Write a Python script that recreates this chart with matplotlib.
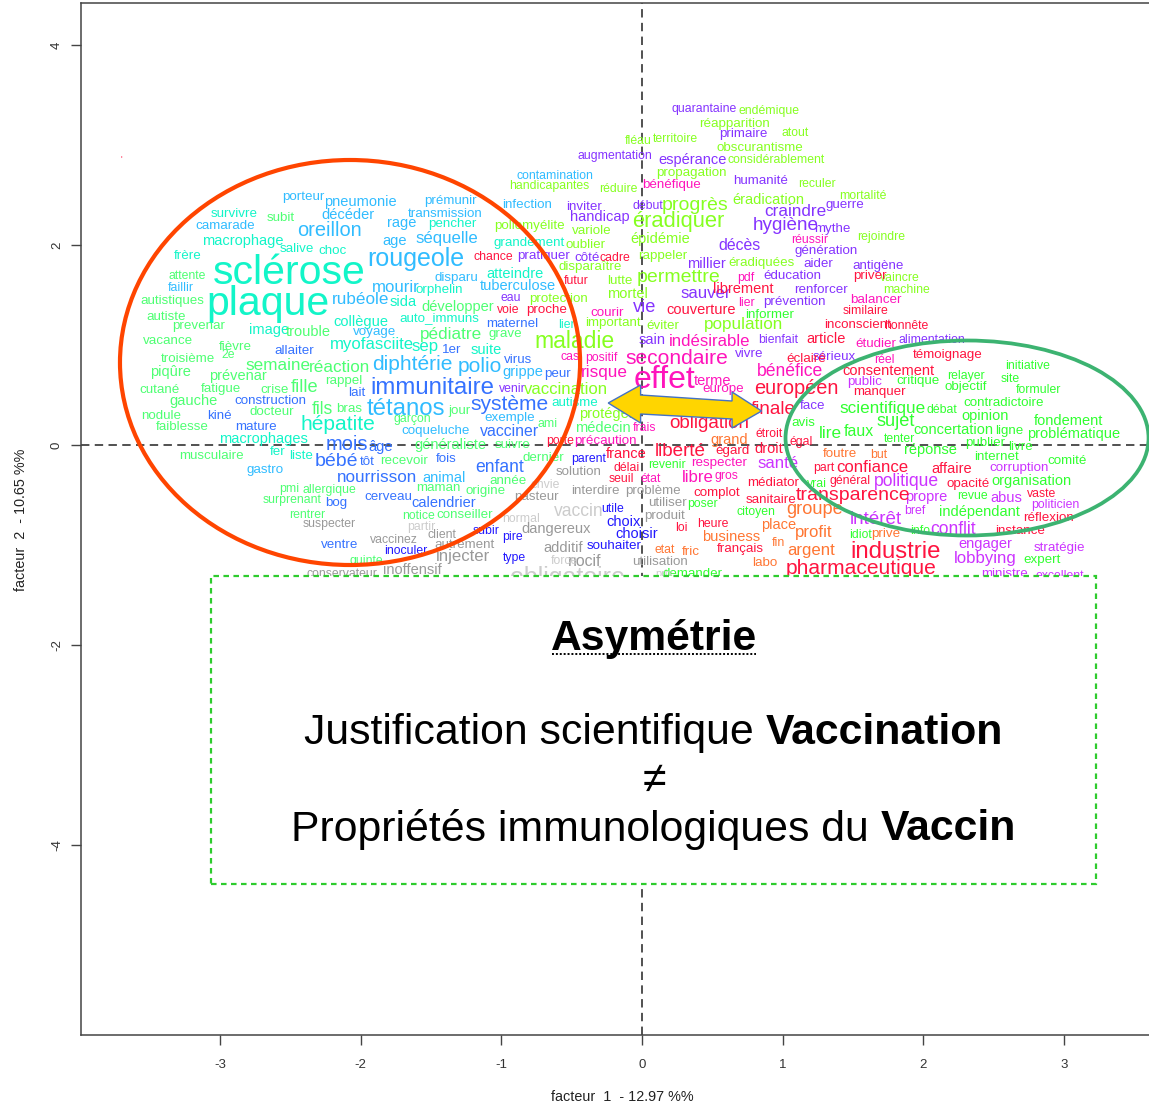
import matplotlib
matplotlib.use("Agg")
import matplotlib.pyplot as plt
import numpy as np
from matplotlib.patches import Ellipse, Polygon, Rectangle

plt.rcParams['font.family'] = ['Liberation Sans', 'DejaVu Sans']
plt.rcParams['axes.unicode_minus'] = False

# (word, factor 1, factor 2, weight)
teal = [("sclérose",-2.51,1.72,41),("plaque",-2.66,1.41,41),("macrophage",-2.84,2.04,12),("survivre",-2.90,2.31,11),
 ("salive",-2.45,1.96,11),("choc",-2.20,1.94,11),("frère",-3.23,1.89,11),("collègue",-2.00,1.23,12),("image",-2.65,1.15,12),
 ("myofasciite",-1.92,1.00,15),("macrophages",-2.69,0.06,12),("hépatite",-2.16,0.21,21),("fer",-2.59,-0.07,11),("liste",-2.42,-0.11,11),
 ("atteindre",-0.90,1.71,12),("sida",-1.70,1.43,12),("auto_immuns",-1.44,1.27,11),("suite",-1.11,0.95,12),("sep",-1.54,0.98,15),
 ("orphelin",-1.44,1.55,11),("autisme",-0.48,0.42,11),("lien",-0.53,1.20,10),("grandement",-0.80,2.02,11),("pencher",-1.35,2.21,11)]
cyan = [("porteur",-2.41,2.48,11),("pneumonie",-2.00,2.43,12),("décéder",-2.09,2.30,12),("camarade",-2.96,2.19,11),("oreillon",-2.22,2.14,20),
 ("faillir",-3.28,1.57,10),("rubéole",-2.00,1.45,14),("rougeole",-1.61,1.86,25),("prémunir",-1.36,2.44,11),("transmission",-1.40,2.31,11),
 ("rage",-1.71,2.22,12),("age",-1.76,2.04,12),("séquelle",-1.39,2.06,15),("mourir",-1.75,1.58,15),("disparu",-1.32,1.67,11),
 ("tuberculose",-0.88,1.59,12),("infection",-0.82,2.40,11),("contamination",-0.62,2.69,10),("voyage",-1.90,1.13,11),("grippe",-0.85,0.73,12),
 ("diphtérie",-1.63,0.80,21),("polio",-1.15,0.79,21),("tétanos",-1.68,0.36,24),("coqueluche",-1.47,0.14,11),("animal",-1.41,-0.33,12),
 ("gastro",-2.68,-0.25,11),("exemple",-0.94,0.27,11)]
blue = [("immunitaire",-1.49,0.57,24),("système",-0.94,0.40,21),("vacciner",-0.94,0.14,13),("maternel",-0.92,1.21,11),("lait",-2.03,0.52,11),
 ("allaiter",-2.47,0.94,11),("construction",-2.64,0.44,11),("kiné",-3.00,0.29,11),("mature",-2.74,0.18,11),("mois",-2.10,0.00,20),
 ("âge",-1.855,-0.02,12),("bébé",-2.17,-0.17,19),("tôt",-1.95,-0.17,11),("nourrisson",-1.88,-0.33,14),("enfant",-1.01,-0.23,16),
 ("cerveau",-1.80,-0.52,11),("bog",-2.17,-0.58,11),("calendrier",-1.41,-0.58,12),("fois",-1.39,-0.14,11),("ventre",-2.15,-1.00,11),
 ("1er",-1.35,0.95,11),("virus",-0.88,0.85,11),("peur",-0.60,0.71,11)]
navy = [("utile",-0.21,-0.64,10),("choix",-0.13,-0.77,12),("choisir",-0.04,-0.89,12),("souhaiter",-0.20,-1.01,11),("pire",-0.92,-0.92,10),
 ("type",-0.91,-1.13,10),("subir",-1.11,-0.86,10),("parent",-0.38,-0.14,10),("inoculer",-1.68,-1.06,10)]
mint = [("autistiques",-3.34,1.44,11),("autiste",-3.38,1.28,11),("prevenar",-3.15,1.19,11),("vacance",-3.37,1.04,11),("fièvre",-2.89,0.98,11),
 ("troisième",-3.23,0.86,11),("semaine",-2.59,0.80,14),("réaction",-2.15,0.78,14),("piqûre",-3.35,0.73,12),("prévenar",-2.87,0.69,12),
 ("rappel",-2.12,0.64,11),("cutané",-3.43,0.55,11),("fatigue",-2.99,0.56,11),("crise",-2.61,0.55,11),("gauche",-3.19,0.44,12),
 ("docteur",-2.63,0.33,11),("nodule",-3.42,0.29,11),("faiblesse",-3.27,0.18,11),("musculaire",-3.06,-0.11,11),("pédiatre",-1.36,1.10,14),
 ("grave",-0.97,1.11,11),("pmi",-2.51,-0.44,10),("allergique",-2.22,-0.45,10),("surprenant",-2.49,-0.55,10),("rentrer",-2.38,-0.70,10),
 ("recevoir",-1.69,-0.16,11),("généraliste",-1.36,0.00,12),("suivre",-0.92,0.00,11),("dernier",-0.70,-0.13,11),("année",-0.95,-0.36,11),
 ("maman",-1.45,-0.43,11),("origine",-1.11,-0.46,11),("notice",-1.59,-0.71,10),("conseiller",-1.26,-0.70,11),("jour",-1.30,0.34,11),
 ("ami",-0.67,0.21,10),("médecin",-0.28,0.17,12),("quinte",-1.96,-1.16,10),("fille",-2.40,0.58,17),("fils",-2.27,0.36,16),("bras",-2.08,0.36,11),
 ("développer",-1.31,1.38,12),("attente",-3.23,1.69,10),("2e",-2.94,0.90,10),("trouble",-2.37,1.13,12),("subit",-2.57,2.27,11),("garçon",-1.63,0.26,10)]
green = [("informer",0.91,1.30,11),("scientifique",1.71,0.36,14),("sujet",1.80,0.23,17),("avis",1.15,0.22,11),("lire",1.34,0.11,14),("faux",1.54,0.13,13),
 ("tenter",1.83,0.06,10),("débat",2.13,0.35,10),("contradictoire",2.57,0.42,11),("opinion",2.44,0.29,12),("concertation",2.21,0.15,12),("ligne",2.61,0.14,11),
 ("fondement",3.03,0.24,12),("problématique",3.07,0.11,12),("publier",2.44,0.02,11),("livre",2.69,-0.02,11),("réponse",2.05,-0.05,12),("internet",2.52,-0.12,11),
 ("comité",3.02,-0.16,11),("organisation",2.77,-0.36,12),("revue",2.35,-0.51,10),("indépendant",2.40,-0.67,12),("expert",2.84,-1.15,11),("idiot",1.55,-0.90,10),
 ("info",1.98,-0.86,10),("initiative",2.74,0.79,10),("site",2.62,0.66,10),("formuler",2.82,0.55,10),("relayer",2.30,0.69,10),("critique",1.96,0.64,11),
 ("objectif",2.30,0.58,11),("citoyen",0.81,-0.67,10),("poser",0.43,-0.59,10),("demander",0.36,-1.29,11),("vrai",1.24,-0.39,10),("revenir",0.18,-0.20,10)]
lime = [("handicapantes",-0.66,2.59,10),("réduire",-0.17,2.56,10),("poliomyélite",-0.80,2.19,11),("variole",-0.36,2.14,11),("oublier",-0.40,2.00,11),
 ("disparaître",-0.37,1.78,11),("lutte",-0.16,1.64,11),("mortel",-0.10,1.51,12),("protection",-0.59,1.46,11),("important",-0.21,1.22,11),
 ("vaccination",-0.54,0.56,15),("protéger",-0.25,0.31,12),("maladie",-0.48,1.04,23),("épidémie",0.13,2.06,12),("éradiquer",0.26,2.23,22),
 ("progrès",0.38,2.39,19),("rappeler",0.15,1.89,11),("permettre",0.26,1.68,19),("fléau",-0.03,3.04,10),("territoire",0.24,3.06,10),
 ("réapparition",0.66,3.21,11),("endémique",0.90,3.34,10),("atout",1.09,3.12,10),("obscurantisme",0.84,2.97,11),("considérablement",0.95,2.85,10),
 ("propagation",0.35,2.72,11),("reculer",1.24,2.61,10),("éradication",0.90,2.45,12),("mortalité",1.57,2.49,10),("rejoindre",1.70,2.08,10),
 ("éradiquées",0.85,1.82,11),("vaincre",1.83,1.67,10),("machine",1.88,1.55,10),("éviter",0.15,1.19,11),("population",0.72,1.20,14)]
purple = [("quarantaine",0.44,3.36,10),("primaire",0.72,3.11,11),("augmentation",-0.19,2.89,10),("espérance",0.36,2.85,12),("humanité",0.84,2.64,11),
 ("inviter",-0.41,2.38,11),("handicap",-0.30,2.28,12),("début",0.04,2.39,10),("craindre",1.09,2.33,14),("guerre",1.44,2.40,11),("hygiène",1.02,2.19,18),
 ("mythe",1.35,2.16,11),("décès",0.69,2.00,13),("génération",1.31,1.94,11),("aider",1.25,1.81,11),("antigène",1.68,1.79,11),("millier",0.46,1.81,12),
 ("éducation",1.07,1.69,11),("sauver",0.45,1.52,15),("renforcer",1.27,1.55,11),("prévention",1.08,1.43,11),("vie",0.02,1.37,17),("côté",-0.39,1.87,11),
 ("pratiquer",-0.70,1.89,11),("eau",-0.93,1.47,10),("venir",-0.92,0.56,10),("vivre",0.76,0.91,11),("sain",0.07,1.05,12),("bienfait",0.97,1.05,10),
 ("sérieux",1.37,0.88,11),("face",1.21,0.39,11),("alimentation",2.06,1.05,10)]
magenta = [("bénéfique",0.21,2.60,11),("réussir",1.19,2.05,10),("pdf",0.74,1.67,10),("lier",0.74,1.42,10),("balancer",1.66,1.45,11),("courir",-0.25,1.32,11),
 ("indésirable",0.48,1.04,15),("secondaire",0.25,0.87,21),("effet",0.16,0.65,32),("risque",-0.27,0.72,14),("cas",-0.51,0.88,10),("positif",-0.29,0.87,10),
 ("précaution",-0.26,0.04,11),("terme",0.50,0.64,12),("europe",0.58,0.56,11),("bénéfice",1.05,0.73,16),("étudier",1.66,1.01,11),("état",0.06,-0.34,10),
 ("gros",0.60,-0.31,10),("libre",0.40,-0.33,15),("frais",0.02,0.17,10),("respecter",0.55,-0.18,11),("réel",1.72,0.85,10)]
violet = [("politique",1.88,-0.36,16),("propre",2.02,-0.52,12),("abus",2.59,-0.53,12),("corruption",2.68,-0.23,11),("intérêt",1.66,-0.74,18),("bref",1.94,-0.66,10),
 ("conflit",2.21,-0.85,16),("engager",2.44,-0.99,12),("lobbying",2.44,-1.13,15),("stratégie",2.97,-1.03,11),("ministre",2.58,-1.29,11),("politicien",2.94,-0.60,10),
 ("excellent",2.97,-1.31,10),("santé",0.97,-0.19,15),("public",1.58,0.63,11)]
red = [("chance",-1.06,1.88,10),("cadre",-0.19,1.87,10),("voie",-0.95,1.35,10),("proche",-0.68,1.35,11),("futur",-0.47,1.64,10),("priver",1.62,1.69,11),
 ("inconscient",1.53,1.20,11),("similaire",1.59,1.34,10),("couverture",0.42,1.35,12),("librement",0.72,1.56,12),("article",1.31,1.06,12),("honnête",1.88,1.19,10),
 ("éclairé",1.17,0.86,11),("consentement",1.75,0.74,12),("européen",1.10,0.57,20),("finale",0.93,0.36,18),("obligation",0.48,0.21,18),("égard",0.64,-0.06,11),
 ("liberté",0.27,-0.06,18),("droit",0.90,-0.04,12),("étroit",0.90,0.11,10),("égal",1.13,0.03,10),("manquer",1.69,0.53,11),("complot",0.53,-0.48,11),
 ("médiator",0.93,-0.38,11),("sanitaire",0.92,-0.55,11),("heure",0.50,-0.79,10),("loi",0.28,-0.83,10),("français",0.70,-1.04,11),("pharmaceutique",1.56,-1.24,21),
 ("industrie",1.80,-1.07,24),("transparence",1.50,-0.50,19),("confiance",1.64,-0.22,15),("affaire",2.20,-0.24,12),("opacité",2.32,-0.39,11),("vaste",2.84,-0.49,10),
 ("réflexion",2.89,-0.73,11),("instance",2.69,-0.86,11),("général",1.48,-0.36,10),("part",1.29,-0.23,10),("seuil",-0.15,-0.34,10),("délai",-0.11,-0.23,10),
 ("porte",-0.58,0.04,10),("france",-0.11,-0.09,12),("témoignage",2.17,0.90,11),("'",-3.70,2.86,7)]
orange = [("grand",0.62,0.05,12),("foutre",1.41,-0.09,11),("but",1.68,-0.10,10),("groupe",1.23,-0.65,17),("profit",1.22,-0.87,15),("place",0.97,-0.80,12),
 ("business",0.63,-0.92,12),("fin",0.97,-0.98,10),("argent",1.20,-1.05,15),("labo",0.87,-1.18,11),("etat",0.16,-1.05,10),("fric",0.35,-1.07,11),("prive",1.73,-0.89,11)]
gray = [("suspecter",-2.22,-0.79,10),("vaccinez",-1.76,-0.95,10),("client",-1.42,-0.90,10),("autrement",-1.26,-1.00,11),("injecter",-1.27,-1.11,15),
 ("inoffensif",-1.63,-1.25,12),("conservateur",-2.13,-1.29,10),("additif",-0.56,-1.03,12),("dangereux",-0.61,-0.84,12),("solution",-0.45,-0.27,11),
 ("interdire",-0.33,-0.46,11),("problème",0.08,-0.46,11),("pasteur",-0.75,-0.52,11),("utiliser",0.18,-0.58,11),("produit",0.16,-0.71,11),
 ("utilisation",0.13,-1.17,11),("nocif",-0.41,-1.17,13)]
pale = [("envie",-0.69,-0.40,10),("vaccin",-0.45,-0.66,16),("partir",-1.57,-0.82,10),("normal",-0.86,-0.74,10),("force",-0.55,-1.16,10),
 ("obligatoire",-0.53,-1.33,25),("prix",0.16,-1.29,9)]

groups = [(teal,"#12F5C8"),(cyan,"#30BCFF"),(blue,"#3572FF"),(navy,"#2218FF"),(mint,"#4DFF72"),(green,"#30FF30"),
          (lime,"#86FF20"),(purple,"#8533FF"),(magenta,"#FF14BC"),(violet,"#CC33FF"),(red,"#FF1440"),(orange,"#FF7633"),
          (gray,"#999999"),(pale,"#CCCCCC")]

x_ticks = [-3,-2,-1,0,1,2,3]
y_ticks = [-4,-2,0,2,4]
x_label = "facteur  1  - 12.97 %%"
y_label = "facteur  2  - 10.65 %%"

W, H = 1149, 1105
fig = plt.figure(figsize=(W/100, H/100), dpi=100)
ax = fig.add_axes([81/W, (H-1035)/H, 1075/W, 1032/H])
ax.set_xlim(-3.987, 3.653)
ax.set_ylim(-5.90, 4.42)
ax.set_xticks(x_ticks)
ax.set_yticks(y_ticks)
ax.tick_params(axis="x", length=7, width=1.0, labelsize=9.5, pad=10, color="#444444", labelcolor="#333333")
ax.tick_params(axis="y", length=7, width=1.0, labelsize=9.5, pad=6, color="#444444", labelcolor="#333333")
for lab in ax.get_yticklabels():
    lab.set_rotation(90); lab.set_va("center")
for s in ax.spines.values():
    s.set_linewidth(1.1); s.set_color("#444444")
fig.text(622/W, 1-1097/H, x_label, ha="center", va="center", fontsize=10.4, color="#222222")
fig.text(21/W, 1-520/H, y_label, ha="center", va="center", rotation=90, fontsize=10.4, color="#222222")

dash = (0, (5.5, 3.5))
ax.axhline(0, color="#222222", ls=dash, lw=1.1, zorder=1)
ax.axvline(0, color="#222222", ls=dash, lw=1.1, zorder=1)

for items, col in groups:
    for word, fx, fy, weight in items:
        # the small words of the reference are rendered wider than their em size
        scale = np.interp(weight, [14, 15, 20], [1.22, 1.12, 1.0])
        ax.text(fx, fy, word, color=col, fontsize=weight*0.72*scale, ha="center", va="center", zorder=2, clip_on=True)

ax.add_patch(Ellipse((-2.075,0.825), 3.27, 4.05, fill=False, ec="#FF4500", lw=3.0, zorder=3))
ax.add_patch(Ellipse((2.31,0.07), 2.58, 1.95, fill=False, ec="#3CB371", lw=2.7, zorder=3))
ax.add_patch(Polygon([(-0.24,0.42),(-0.01,0.60),(-0.01,0.50),(0.64,0.44),(0.64,0.53),(0.85,0.34),
                      (0.64,0.17),(0.64,0.26),(-0.01,0.31),(-0.01,0.22)],
                     closed=True, fc="#FFD500", ec="#4472C4", lw=1.0, zorder=4))

ax.add_patch(Rectangle((-3.06,-4.39), 6.29, 3.08, fc="white", ec="#2ECC2E", lw=1.6,
                       ls=(0,(2.5,2)), zorder=5))

def centered(y, parts, size):
    """Write a centred line whose parts may differ in weight."""
    fig.canvas.draw()
    r = fig.canvas.get_renderer()
    ts = [ax.text(0, y, s, fontsize=size, fontweight=w, color="black", va="center", ha="left", zorder=6) for s, w in parts]
    ws = [t.get_window_extent(r).width for t in ts]
    space = size*0.278*100/72
    total = sum(ws) + space*(len(ts)-1)
    px = ax.transData.transform((0.085, y))[0] - total/2
    for t, wd in zip(ts, ws):
        t.set_x(ax.transData.inverted().transform((px, 0))[0])
        px += wd + space

centered(-1.94, [("Asymétrie","bold")], 30.7)
ax.plot([-0.64,0.81], [-2.09,-2.09], color="black", ls=(0,(1,1)), lw=1.4, zorder=6)
centered(-2.88, [("Justification scientifique","normal"),("Vaccination","bold")], 30.8)
centered(-3.36, [("≠","normal")], 30.8)
centered(-3.84, [("Propriétés immunologiques du","normal"),("Vaccin","bold")], 30.8)

fig.savefig("out.png", dpi=100)
